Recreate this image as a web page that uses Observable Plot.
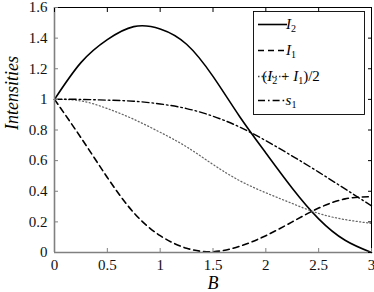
<!DOCTYPE html>
<html><head><meta charset="utf-8">
<script src="https://cdn.jsdelivr.net/npm/d3@7"></script>
<script src="https://cdn.jsdelivr.net/npm/@observablehq/plot@0.6"></script>
<style>
body{margin:0;background:#fff}
#chart{width:374px;height:292px}
#chart svg, #chart svg text, #chart svg tspan { font-family: "Liberation Serif", "DejaVu Serif", serif !important; }
</style>
</head><body><div id="chart"></div>
<script>
const B    = [0, 0.25, 0.5, 0.75, 1.0, 1.25, 1.5, 1.75, 2.0, 2.25, 2.5, 2.75, 3.0];
const I2   = [1.00, 1.24, 1.39, 1.475, 1.46, 1.36, 1.15, 0.89, 0.65, 0.42, 0.22, 0.08, 0.0];
const I1   = [1.00, 0.75, 0.49, 0.26, 0.11, 0.028, 0.005, 0.04, 0.11, 0.20, 0.29, 0.35, 0.365];
const MEAN = [1.00, 0.99, 0.94, 0.87, 0.785, 0.69, 0.575, 0.47, 0.39, 0.32, 0.255, 0.215, 0.19];
const S1   = [1.00, 1.00, 0.995, 0.988, 0.97, 0.94, 0.89, 0.82, 0.73, 0.63, 0.525, 0.415, 0.305];
const xTicks = [0, 0.5, 1, 1.5, 2, 2.5, 3];
const yTicks = [0, 0.2, 0.4, 0.6, 0.8, 1, 1.2, 1.4, 1.6];

const FONT = "'Liberation Serif', 'DejaVu Serif', serif";
const rows = vals => B.map((b, i) => ({B: b, v: vals[i]}));

const styles = [
  {name: "I2",   data: I2,   stroke: "#000", width: 1.6, dash: null},
  {name: "I1",   data: I1,   stroke: "#000", width: 1.6, dash: "6,4"},
  {name: "mean", data: MEAN, stroke: "#666", width: 1.25, dash: "1.1,2.4"},
  {name: "s1",   data: S1,   stroke: "#000", width: 1.4, dash: "7,3,1.6,3"}
];

const plot = Plot.plot({
  width: 374, height: 292,
  marginLeft: 54, marginRight: 3, marginTop: 7, marginBottom: 40,
  style: `font-family: ${FONT}; font-size: 14px; color: #000; background: #fff; overflow: visible;`,
  x: {domain: [0, 3]},
  y: {domain: [0, 1.6]},
  marks: [
    ...styles.map(s => Plot.line(rows(s.data), {x: "B", y: "v", curve: "natural",
      stroke: s.stroke, strokeWidth: s.width, strokeDasharray: s.dash})),
    Plot.ruleY([1.6], {stroke: "#000", strokeWidth: 1}),
    Plot.ruleX([3], {stroke: "#000", strokeWidth: 1}),
    Plot.ruleY([0], {stroke: "#808080", strokeWidth: 1.6}),
    Plot.ruleX([0], {stroke: "#808080", strokeWidth: 1.6}),
    // inward ticks
    Plot.axisX(xTicks, {anchor: "bottom", tickSize: 4, dy: -4, text: null, stroke: "#808080", label: null}),
    Plot.axisX(xTicks, {anchor: "top", tickSize: 4, dy: 4, text: null, stroke: "#000", label: null}),
    Plot.axisY(yTicks, {anchor: "left", tickSize: 4, dx: 4, text: null, stroke: "#808080", label: null}),
    Plot.axisY(yTicks, {anchor: "right", tickSize: 4, dx: -4, text: null, stroke: "#000", label: null}),
    // tick labels
    Plot.axisX(xTicks, {anchor: "bottom", tickSize: 0, tickPadding: 7, tickFormat: d => String(d), label: null, fill: "#111", fontSize: 15}),
    Plot.axisY(yTicks, {anchor: "left", tickSize: 0, tickPadding: 7, tickFormat: d => String(d), label: null, fill: "#111", fontSize: 15}),
    // axis titles
    Plot.text(["B"], {frameAnchor: "bottom", dy: 31, lineAnchor: "middle", text: d => d, fontStyle: "italic", fontSize: 18, fill: "#000"}),
    Plot.text(["Intensities"], {frameAnchor: "left", dx: -42, rotate: -90, text: d => d, fontStyle: "italic", fontSize: 18, fill: "#000"})
  ]
});
document.getElementById("chart").appendChild(plot);

// legend
const svg = d3.select(plot);
const lg = svg.append("g").attr("font-family", FONT).attr("font-size", 15);
lg.append("rect").attr("x", 253.5).attr("y", 11.5).attr("width", 111).attr("height", 103)
  .attr("fill", "#fff").attr("stroke", "#000").attr("stroke-width", 0.9);
const rowY = [24.5, 50.5, 76.5, 100.5];
const labels = [
  [["I", "i"], ["2", "s"]],
  [["I", "i"], ["1", "s"]],
  [["(", "n"], ["I", "i"], ["2", "s"], [" + ", "n"], ["I", "i"], ["1", "s"], [")/2", "n"]],
  [["s", "i"], ["1", "s"]]
];
styles.forEach((s, i) => {
  const ln = lg.append("line").attr("x1", 258).attr("x2", 287).attr("y1", rowY[i]).attr("y2", rowY[i])
    .attr("stroke", i === 2 ? "#444" : s.stroke)
    .attr("stroke-width", i === 2 ? 1.3 : s.width)
    .attr("stroke-linecap", "butt");
  if (s.dash) ln.attr("stroke-dasharray", i === 2 ? "1.5,2" : s.dash);
  const t = lg.append("text").attr("x", 291).attr("y", rowY[i] + 4.5).attr("fill", "#000");
  let sub = false;
  labels[i].forEach(([str, kind]) => {
    const ts = t.append("tspan").text(str);
    if (kind === "i") ts.attr("font-style", "italic");
    if (kind === "s") { ts.attr("font-size", 10).attr("dy", 3); sub = true; }
    else if (sub) { ts.attr("dy", -3); sub = false; }
  });
});
</script>
</body></html>
